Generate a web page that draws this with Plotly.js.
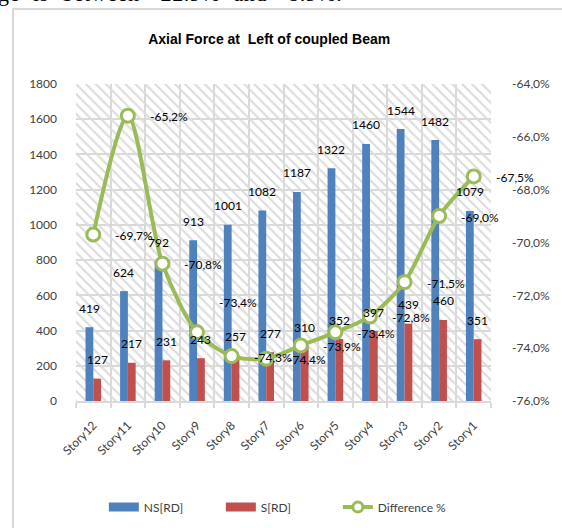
<!DOCTYPE html>
<html>
<head>
<meta charset="utf-8">
<script src="https://cdn.plot.ly/plotly-3.0.1.min.js"></script>
<style>
  html, body { margin:0; padding:0; background:#ffffff; overflow:hidden; }
  #wrap { position:relative; width:562px; height:528px; overflow:hidden; }
  #frame { position:absolute; left:12px; top:8px; width:600px; height:600px;
           border-left:2px solid #d9d9d9; border-top:2px solid #d9d9d9; }
  #cut { position:absolute; left:-2px; top:-19px; font-family:"Liberation Serif", serif;
         font-size:22px; word-spacing:7px; letter-spacing:0.6px; color:#000; white-space:nowrap; }
  #chart { position:absolute; left:0; top:0; width:562px; height:528px; }
</style>
</head>
<body>
<div id="wrap">
  <div id="frame"></div>
  <div id="cut">ge is between -22.9% and -8.9%.</div>
  <div id="chart"></div>
</div>
<script>
// ---- data ----
const stories = ["Story12","Story11","Story10","Story9","Story8","Story7","Story6","Story5","Story4","Story3","Story2","Story1"];
const nsRD = [419, 624, 792, 913, 1001, 1082, 1187, 1322, 1460, 1544, 1482, 1079];
const sRD  = [127, 217, 231, 243, 257, 277, 310, 352, 397, 439, 460, 351];
const diffPct = [-69.7, -65.2, -70.8, -73.4, -74.3, -74.4, -73.9, -73.4, -72.8, -71.5, -69.0, -67.5];
const leftTicks = [0, 200, 400, 600, 800, 1000, 1200, 1400, 1600, 1800];
const rightTicks = [-76, -74, -72, -70, -68, -66, -64];
const seriesNames = ['NS[RD]', 'S[RD]', 'Difference %'];

const n = stories.length;
const leftMax = leftTicks[leftTicks.length - 1];
const fontFam = "Lato, 'Open Sans', sans-serif";
const txtColor = "#404040";
const gridCol = "#d9d9d9";
const colNS = '#4f81bd', colS = '#c0504d', colD = '#9bbb59';

const W = 562, H = 528, M = { l: 76, r: 71, t: 84, b: 127 };
const bargap = 0.55;
const catPx = (W - M.l - M.r) / n;
const barPx = catPx * (1 - bargap) / 2;
// label placement tweak (as in the original, one % label sits higher)
const pctLabelLift = { Story9: 31 };

const fmtPct = v => v.toFixed(1).replace('.', ',') + '%';
const labelFont = { family: fontFam, size: 12, color: '#000' };

const traces = [
  { // hatched plot-area background
    type: 'bar', x: [(n - 1) / 2], y: [leftMax], width: [n],
    xaxis: 'x', yaxis: 'y',
    marker: { color: 'rgba(255,255,255,0)', line: { width: 0 },
      pattern: { shape: '\\', fgcolor: '#dcdcdc', bgcolor: 'rgba(255,255,255,0)', size: 7, solidity: 0.3 } },
    showlegend: false, hoverinfo: 'skip'
  },
  {
    type: 'bar', name: seriesNames[0], x: stories, y: nsRD, xaxis: 'x2', yaxis: 'y',
    marker: { color: colNS }, showlegend: false
  },
  {
    type: 'bar', name: seriesNames[1], x: stories, y: sRD, xaxis: 'x2', yaxis: 'y',
    marker: { color: colS }, showlegend: false
  },
  {
    type: 'scatter', name: seriesNames[2], x: stories, y: diffPct, xaxis: 'x2', yaxis: 'y2',
    mode: 'lines+markers', showlegend: false,
    line: { color: colD, width: 4, shape: 'spline', smoothing: 0.8 },
    marker: { symbol: 'circle', size: 13, color: '#ffffff', line: { color: colD, width: 3 } },
    cliponaxis: false
  },
  // legend entries (wide swatches like the original)
  { type: 'scatter', name: seriesNames[0], x: [null], y: [null], xaxis: 'x2', yaxis: 'y', mode: 'lines',
    line: { color: colNS, width: 9 }, showlegend: true, hoverinfo: 'skip' },
  { type: 'scatter', name: seriesNames[1], x: [null], y: [null], xaxis: 'x2', yaxis: 'y', mode: 'lines',
    line: { color: colS, width: 9 }, showlegend: true, hoverinfo: 'skip' },
  { type: 'scatter', name: seriesNames[2], x: [null], y: [null], xaxis: 'x2', yaxis: 'y2', mode: 'lines+markers',
    line: { color: colD, width: 4 }, marker: { symbol: 'circle', size: 10, color: '#ffffff', line: { color: colD, width: 3 } },
    showlegend: true, hoverinfo: 'skip' }
];

const annotations = [];
stories.forEach((s, i) => {
  annotations.push({ x: s, y: nsRD[i], xref: 'x2', yref: 'y', text: String(nsRD[i]), showarrow: false,
    xanchor: 'center', yanchor: 'middle', xshift: -barPx / 2, yshift: 19, font: labelFont });
  annotations.push({ x: s, y: sRD[i], xref: 'x2', yref: 'y', text: String(sRD[i]), showarrow: false,
    xanchor: 'center', yanchor: 'middle', xshift: barPx / 2, yshift: 19, font: labelFont });
  annotations.push({ x: s, y: diffPct[i], xref: 'x2', yref: 'y2', text: fmtPct(diffPct[i]), showarrow: false,
    xanchor: 'left', yanchor: 'middle', xshift: 20, yshift: -1 + (pctLabelLift[s] || 0), font: labelFont });
});

const layout = {
  width: W, height: H,
  margin: M,
  paper_bgcolor: 'rgba(0,0,0,0)', plot_bgcolor: 'rgba(0,0,0,0)',
  separators: ',.',
  font: { family: fontFam, size: 12, color: txtColor },
  title: { text: 'Axial Force at \u00a0Left of coupled Beam',
    font: { family: "'Liberation Sans', Arial, sans-serif", size: 14, color: '#000', weight: 'bold' },
    xref: 'container', x: 0.479, xanchor: 'center', yref: 'container', y: 1 - 39 / H, yanchor: 'middle' },
  barmode: 'group', bargap: bargap, bargroupgap: 0,
  showlegend: true,
  legend: { orientation: 'h', xref: 'paper', x: 0.49, xanchor: 'center', yref: 'container', y: 1 - 507 / H, yanchor: 'middle',
    font: { family: fontFam, size: 12, color: txtColor }, itemwidth: 30, entrywidth: 72, traceorder: 'normal' },
  annotations: annotations,
  xaxis: {
    type: 'linear', range: [-0.5, n - 0.5], tick0: -0.5, dtick: 1,
    showgrid: true, gridcolor: gridCol, gridwidth: 2,
    showline: true, linecolor: gridCol, linewidth: 2,
    ticks: 'outside', ticklen: 5, tickcolor: gridCol, tickwidth: 2,
    showticklabels: false, zeroline: false, fixedrange: true
  },
  xaxis2: {
    type: 'category', overlaying: 'x', range: [-0.5, n - 0.5],
    showgrid: false, showline: false, ticks: '', zeroline: false,
    tickangle: -45, ticklabelstandoff: 14,
    tickfont: { family: fontFam, size: 12, color: txtColor }, fixedrange: true
  },
  yaxis: {
    range: [0, leftMax], tickvals: leftTicks, ticktext: leftTicks.map(String),
    showgrid: true, gridcolor: gridCol, gridwidth: 2, zeroline: false,
    showline: false, ticks: '', ticklabelstandoff: 18,
    tickfont: { family: fontFam, size: 12, color: txtColor }, fixedrange: true
  },
  yaxis2: {
    overlaying: 'y', side: 'right', anchor: 'x',
    range: [rightTicks[0], rightTicks[rightTicks.length - 1]], tickvals: rightTicks, ticktext: rightTicks.map(fmtPct),
    showgrid: false, zeroline: false, showline: false, ticks: '', ticklabelstandoff: 20,
    tickfont: { family: fontFam, size: 12, color: txtColor }, fixedrange: true
  }
};

Plotly.newPlot('chart', traces, layout, { staticPlot: true, displayModeBar: false });
</script>
</body>
</html>
